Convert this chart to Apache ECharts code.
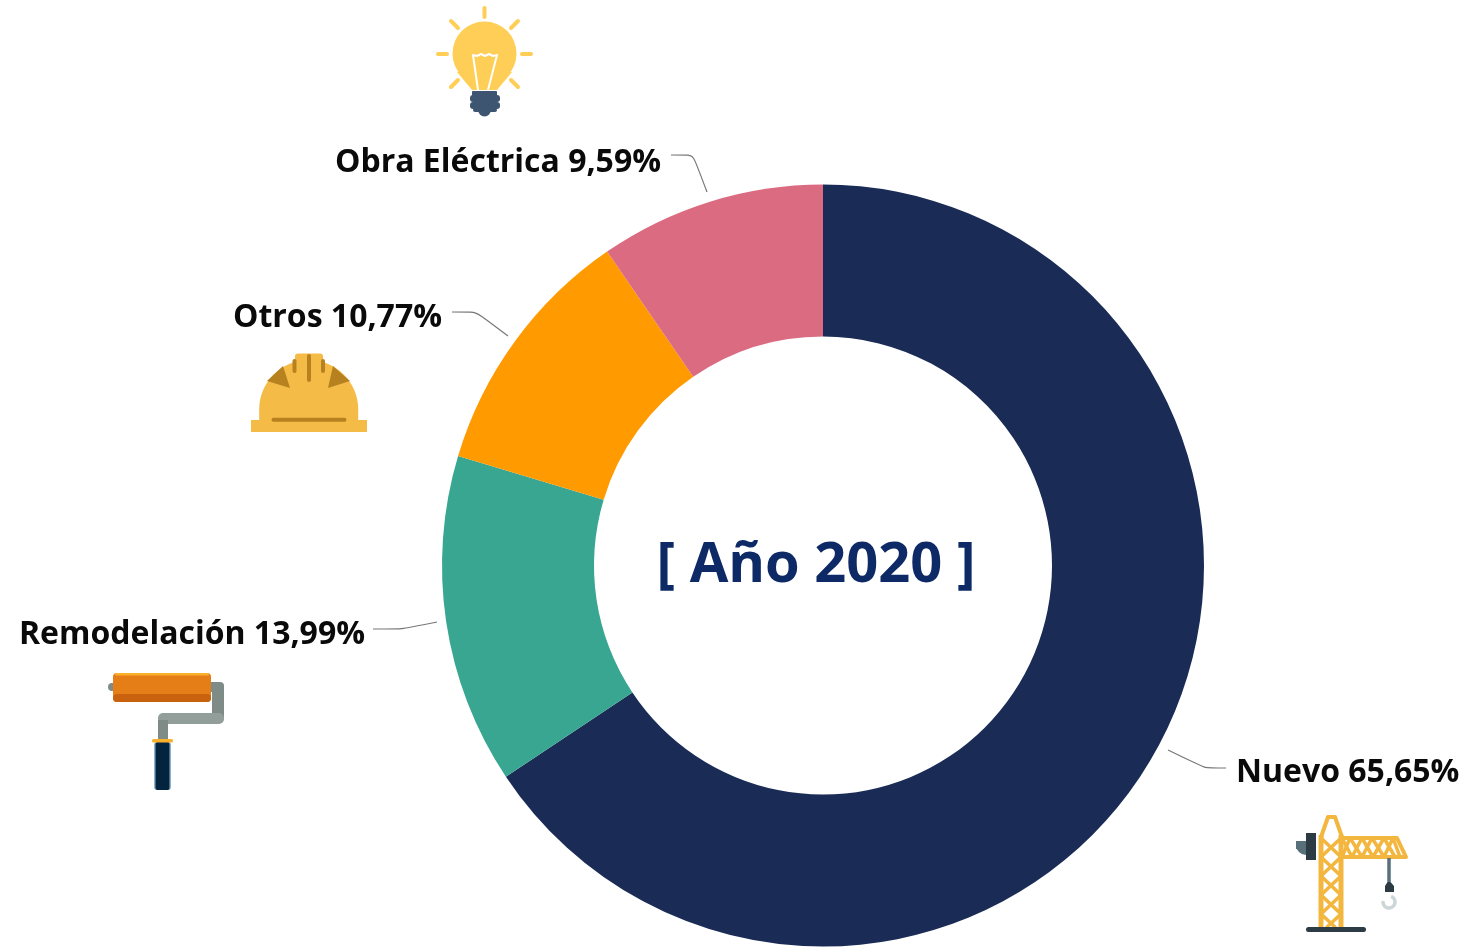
<!DOCTYPE html>
<html><head><meta charset="utf-8">
<style>html,body{margin:0;padding:0;background:#fff}#c{width:1471px;height:948px}</style>
<script src="https://cdn.jsdelivr.net/npm/echarts@6/dist/echarts.min.js"></script>
</head><body><div id="c"></div>
<script>
const categories = ['Nuevo','Remodelación','Otros','Obra Eléctrica'];
const shares = [65.65,13.99,10.77,9.59];
const sliceColors = ['#1a2c56','#38a690','#ff9b00','#db6b80'];
const centerTitle = '[ Año 2020 ]';

const labelPlacement = {
  'Nuevo':{x:1236,y:773,align:'left',line:[[1168,750],[1205,768],[1226,768]]},
  'Remodelación':{x:365,y:635,align:'right',line:[[437,622],[402,629],[373,629]]},
  'Otros':{x:442,y:318,align:'right',line:[[508,336],[476,312],[452,312]]},
  'Obra Eléctrica':{x:661,y:163,align:'right',line:[[707,192],[693,155],[671,155]]}
};

const rect=(x,y,w,h,fill,r)=>({type:'rect',shape:{x,y,width:w,height:h,r:r||0},style:{fill}});
const poly=(points,fill)=>({type:'polygon',shape:{points},style:{fill}});
const line=(x1,y1,x2,y2,stroke,w,cap)=>({type:'line',shape:{x1,y1,x2,y2},style:{stroke,lineWidth:w,lineCap:cap||'round'}});
const pl=(points,stroke,w)=>({type:'polyline',shape:{points},style:{stroke,lineWidth:w,fill:'none',lineJoin:'round',lineCap:'round'}});

const bulbY='#ffce56', bulbD='#3d5570';
const bulb=[
  line(484.5,8,484.5,17,bulbY,4),line(438,54,447,54,bulbY,4),line(522,54,531,54,bulbY,4),
  line(451,21,458,28,bulbY,4),line(518,21,511,28,bulbY,4),line(451,87,458,80,bulbY,4),line(518,87,511,80,bulbY,4),
  poly([[457,72],[472,90],[497,90],[512,72]],bulbY),
  {type:'circle',shape:{cx:484.5,cy:53.5,r:32},style:{fill:bulbY}},
  pl([[478,90],[473,55],[477,56],[481,54],[485,56],[489,54],[493,56],[497,55],[488,90]],'#fff',2),
  rect(472,91,25,5,bulbD,1),rect(470,95,30,7,bulbD,3),rect(470,102,30,7,bulbD,3),rect(473,108,24,4,bulbD,2),
  {type:'circle',shape:{cx:484.5,cy:110,r:6.5},style:{fill:bulbD}}
];

const hatY='#f4bb47', hatD='#b78120';
const hat=[
  {type:'sector',shape:{cx:308.7,cy:409.5,r:49.5,r0:0,startAngle:Math.PI,endAngle:Math.PI*2},style:{fill:hatY}},
  rect(259.2,409,99,12,hatY),
  rect(251,420,116,12,hatY),
  rect(295,353.5,28,20,hatY,3),
  poly([[283,366],[267,381],[290,388]],hatD),poly([[333,366],[350,381],[328,388]],hatD),
  line(309,356,309,380,hatD,4),line(294.5,361,294.5,371,hatD,4),line(323,361,323,371,hatD,4),
  line(273.5,419.8,344.5,419.8,hatD,4)
];

const rollerGrey='#7f8b87', rollerGrey2='#929e9a';
const roller=[
  rect(108,683,8,8,rollerGrey,4),
  rect(205,682,19,10,rollerGrey,4),rect(212,684,12,36,rollerGrey,3),
  rect(158,713,66,11,rollerGrey2,5),rect(158,720,10,20,rollerGrey),
  rect(113,673,98,29,'#e67e18',4),
  rect(113,694,98,8,'#c9620f',4),
  rect(115,673,94,2.5,'#f9b02c',1),
  rect(154,742,17,48,'#8fb3c9',3),rect(155.5,742,14,48,'#02243f',2),
  rect(152,739,21,3.5,'#f9b02c',1.5)
];

const cy='#f3b63e', cd='#2d3c44';
const crane=[
  rect(1296,841,10,8,'#58707a',0),{type:'sector',shape:{cx:1306,cy:845,r:10,r0:0,startAngle:Math.PI/2,endAngle:Math.PI},style:{fill:'#58707a'}},
  pl([[1321,837],[1328,817],[1335,817],[1342,837]],cy,4),
  pl([[1342,838],[1397,838],[1406,857],[1342,857]],cy,4),
  pl([[1342,857],[1350,838],[1362,857],[1372,838],[1384,857],[1393,838],[1400,857]],cy,3.5),
  pl([[1342,838],[1352,857],[1362,838],[1373,857],[1384,838],[1395,857]],cy,3.5),
  line(1321,835,1321,927,cy,5,'butt'),line(1341,835,1341,927,cy,5,'butt'),
  pl([[1321,838],[1341,857],[1321,876],[1341,895],[1321,914],[1335,927]],cy,3.5),
  pl([[1341,838],[1321,857],[1341,876],[1321,895],[1341,914],[1327,927]],cy,3.5),
  rect(1306,833,10,27,cd,0),
  rect(1306,927,60,5,cd,2.5),
  line(1389,858,1389,882,'#56707c',3.5,'butt'),
  poly([[1387.5,882],[1390.5,882],[1394,886],[1394,892],[1385,892],[1385,886]],cd),
  {type:'arc',shape:{cx:1389,cy:902,r:6,startAngle:-Math.PI/2.6,endAngle:Math.PI*1.05},style:{stroke:'#cdd5d8',lineWidth:3.5,fill:'none'}}
];

const chart=echarts.init(document.getElementById('c'),null,{renderer:'canvas'});
chart.setOption({
  backgroundColor:'#fff',
  animation:false,
  graphic:{elements:[
    {type:'group',children:bulb},{type:'group',children:hat},{type:'group',children:roller},{type:'group',children:crane},
    {type:'text',x:816,y:566,style:{text:centerTitle,fill:'#0d2a66',font:'700 56px "Open Sans"',align:'center',verticalAlign:'middle'}}
  ]},
  series:[{
    type:'pie',
    center:[823,565.5],
    radius:[229,381],
    startAngle:90,
    clockwise:true,
    data:categories.map((name,i)=>({name,value:shares[i],itemStyle:{color:sliceColors[i]}})),
    label:{show:true,formatter:p=>p.name+' '+p.value.toFixed(2).replace('.',',')+'%',
      color:'#0a0a0a',fontFamily:'Open Sans',fontWeight:700,fontSize:32},
    labelLine:{show:true,smooth:0.15,lineStyle:{color:'#777',width:1.2}},
    labelLayout:function(p){
      const l=labelPlacement[categories[p.dataIndex]];
      return {x:l.x,y:l.y,align:l.align,verticalAlign:'middle',labelLinePoints:l.line};
    }
  }]
});
</script></body></html>
